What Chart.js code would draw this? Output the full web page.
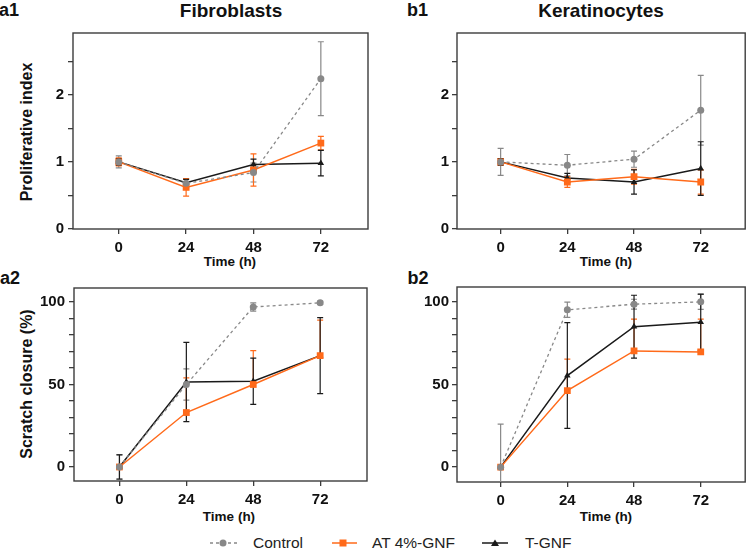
<!DOCTYPE html>
<html>
<head>
<meta charset="utf-8">
<script src="https://cdn.jsdelivr.net/npm/chart.js@4.4.1/dist/chart.umd.min.js"></script>
<style>
    body { margin: 0; width: 750px; height: 551px; background: #fff; position: relative; overflow: hidden;
           font-family: "Liberation Sans", Arial, sans-serif; }
    canvas { position: absolute; }
    .t { position: absolute; white-space: nowrap; line-height: 1; color: #111; font-weight: bold;
         transform: translate(-50%, -50%); }
    .rot { transform: translate(-50%, -50%) rotate(-90deg); }
    .leg { position: absolute; white-space: nowrap; line-height: 1; color: #222; font-size: 15.5px;
           transform: translate(0, -50%); }
    svg { position: absolute; }
</style>
</head>
<body>

<div class="t" style="left:9px; top:9.5px; font-size:18px">a1</div>
<div class="t" style="left:417.5px; top:9.5px; font-size:18px">b1</div>
<div class="t" style="left:10px; top:277.5px; font-size:18px">a2</div>
<div class="t" style="left:418px; top:277.5px; font-size:18px">b2</div>
<div class="t" style="left:231px; top:9.5px; font-size:19px">Fibroblasts</div>
<div class="t" style="left:601px; top:9.5px; font-size:19px">Keratinocytes</div>
<div class="t rot" style="left:27px; top:132px; font-size:16px">Proliferative index</div>
<div class="t rot" style="left:27px; top:384px; font-size:16px">Scratch closure (%)</div>
<div class="t" style="left:230px; top:262px; font-size:13.5px">Time (h)</div>
<div class="t" style="left:606px; top:262px; font-size:13.5px">Time (h)</div>
<div class="t" style="left:229px; top:517px; font-size:13.5px">Time (h)</div>
<div class="t" style="left:606px; top:517px; font-size:13.5px">Time (h)</div>

<canvas id="a1" width="375" height="275" style="left:0; top:0"></canvas>
<canvas id="b1" width="375" height="275" style="left:375px; top:0"></canvas>
<canvas id="a2" width="375" height="250" style="left:0; top:275px"></canvas>
<canvas id="b2" width="375" height="250" style="left:375px; top:275px"></canvas>

<svg width="36" height="14" style="left:208px; top:536px">
    <line x1="2" y1="7" x2="30" y2="7" stroke="#888" stroke-width="1.3" stroke-dasharray="3,3"/>
    <circle cx="15" cy="7" r="3.5" fill="#888"/>
</svg>
<div class="leg" style="left:253px; top:543px">Control</div>
<svg width="32" height="14" style="left:330px; top:536px">
    <line x1="2" y1="7" x2="27" y2="7" stroke="#ff6a1a" stroke-width="1.5"/>
    <rect x="9.5" y="3.5" width="7" height="7" fill="#ff6a1a"/>
</svg>
<div class="leg" style="left:372px; top:543px">AT 4%-GNF</div>
<svg width="32" height="14" style="left:480px; top:536px">
    <line x1="2" y1="7" x2="28" y2="7" stroke="#1a1a1a" stroke-width="1.5"/>
    <polygon points="15,3.5 19,10 11,10" fill="#1a1a1a"/>
</svg>
<div class="leg" style="left:525px; top:543px">T-GNF</div>

<script>
// time points (h)
const times = [0, 24, 48, 72];
const timeTicks = [0, 24, 48, 72];

// y ticks (labels only on the labeled ones)
const prolifTicks = [0, 0.5, 1, 1.5, 2, 2.5];
const prolifLabeled = [0, 1, 2];
const scratchTicks = [0, 10, 20, 30, 40, 50, 60, 70, 80, 90, 100];
const scratchLabeled = [0, 50, 100];

// a1 - fibroblasts, proliferative index
const fibProlifControl = [1.0, 0.68, 0.84, 2.24];
const fibProlifControlErr = [0.09, 0.07, 0.14, 0.55];
const fibProlifAT = [1.0, 0.62, 0.88, 1.28];
const fibProlifATErr = [0.06, 0.13, 0.24, 0.10];
const fibProlifT = [1.0, 0.69, 0.96, 0.98];
const fibProlifTErr = [0.05, 0.05, 0.08, 0.19];

// b1 - keratinocytes, proliferative index
const kerProlifControl = [1.0, 0.95, 1.04, 1.77];
const kerProlifControlErr = [0.20, 0.16, 0.12, 0.52];
const kerProlifAT = [1.0, 0.70, 0.78, 0.70];
const kerProlifATErr = [0.05, 0.08, 0.11, 0.18];
const kerProlifT = [1.0, 0.76, 0.70, 0.90];
const kerProlifTErr = [0.05, 0.07, 0.18, 0.40];

// a2 - fibroblasts, scratch closure (%)
const fibScratchControl = [0, 50, 97, 99.5];
const fibScratchControlErr = [7.5, 9.5, 2.5, 1];
const fibScratchAT = [0, 33, 50, 67.5];
const fibScratchATErr = [0, 21, 20.5, 21.5];
const fibScratchT = [0, 51.5, 52, 67.5];
const fibScratchTErr = [7.3, 24, 14, 23];

// b2 - keratinocytes, scratch closure (%)
const kerScratchControl = [0, 95.2, 98.6, 100];
const kerScratchControlErr = [26, 4.6, 3, 4.5];
const kerScratchAT = [0, 46.3, 70.3, 69.7];
const kerScratchATErr = [0, 19, 19.2, 19.8];
const kerScratchT = [0, 55.4, 85, 87.7];
const kerScratchTErr = [0, 32, 19, 17];

const FONT = '"Liberation Sans", Arial, sans-serif';
const AXIS = '#3c3c3c';
const GREY = '#888888';
const ORANGE = '#ff6a1a';
const BLACK = '#1a1a1a';

const framePlugin = {
    id: 'frame',
    beforeDatasetsDraw(chart) {
        const {ctx, chartArea: a} = chart;
        ctx.save();
        ctx.strokeStyle = AXIS;
        ctx.lineWidth = 1.4;
        ctx.strokeRect(a.left, a.top, a.right - a.left, a.bottom - a.top);
        ctx.restore();
    }
};

// error bars, drawn through the chart's own scales
const errorBarPlugin = {
    id: 'errorBars',
    beforeDatasetsDraw(chart) {
        const {ctx, chartArea: a, scales: {x, y}} = chart;
        ctx.save();
        ctx.beginPath();
        ctx.rect(a.left, a.top - 3, a.right - a.left, a.bottom - a.top + 3);
        ctx.clip();
        chart.data.datasets.forEach(ds => {
            ctx.strokeStyle = ds.borderColor;
            ctx.lineWidth = 1.2;
            ds.data.forEach((pt, i) => {
                const e = ds.errors[i];
                if (!e) return;
                const px = x.getPixelForValue(pt.x);
                const top = y.getPixelForValue(pt.y + e);
                const bot = y.getPixelForValue(ds.upOnly ? pt.y : pt.y - e);
                ctx.beginPath();
                ctx.moveTo(px, top);
                ctx.lineTo(px, bot);
                ctx.moveTo(px - 3, top);
                ctx.lineTo(px + 3, top);
                if (!ds.upOnly) {
                    ctx.moveTo(px - 3, bot);
                    ctx.lineTo(px + 3, bot);
                }
                ctx.stroke();
            });
        });
        ctx.restore();
    }
};

function points(values) {
    return values.map((v, i) => ({x: times[i], y: v}));
}

function makeSeries(control, controlErr, at, atErr, tg, tgErr, atUpOnly) {
    return [
        {
            label: 'Control', data: points(control), errors: controlErr,
            borderColor: GREY, backgroundColor: GREY, borderWidth: 1.3, borderDash: [3, 3],
            pointStyle: 'circle', pointRadius: 3.5, pointBorderWidth: 0
        },
        {
            label: 'AT 4%-GNF', data: points(at), errors: atErr, upOnly: atUpOnly,
            borderColor: ORANGE, backgroundColor: ORANGE, borderWidth: 1.5,
            pointStyle: 'rect', pointRadius: 4.8, pointBorderWidth: 0
        },
        {
            label: 'T-GNF', data: points(tg), errors: tgErr,
            borderColor: BLACK, backgroundColor: BLACK, borderWidth: 1.5,
            pointStyle: 'triangle', pointRadius: 3.8, pointBorderWidth: 0
        }
    ];
}

function makePanel(id, datasets, p) {
    const tickFont = {family: FONT, size: 15, weight: 'bold'};
    return new Chart(document.getElementById(id), {
        type: 'line',
        data: {datasets},
        plugins: [framePlugin, errorBarPlugin],
        options: {
            responsive: false,
            animation: false,
            devicePixelRatio: 1,
            layout: {padding: {top: p.padTop, right: p.padRight, left: 0, bottom: 0}},
            plugins: {legend: {display: false}, tooltip: {enabled: false}},
            elements: {line: {tension: 0}},
            scales: {
                x: {
                    type: 'linear', min: p.xMin, max: p.xMax,
                    afterBuildTicks: ax => { ax.ticks = timeTicks.map(v => ({value: v})); },
                    afterFit: ax => { ax.height = p.xHeight; },
                    grid: {drawOnChartArea: false, tickLength: 5, color: AXIS, lineWidth: 1.3},
                    border: {display: false},
                    ticks: {color: '#111', font: tickFont, padding: 5, autoSkip: false, maxRotation: 0}
                },
                y: {
                    type: 'linear', min: p.yMin, max: p.yMax,
                    afterBuildTicks: ax => { ax.ticks = p.yTicks.map(v => ({value: v})); },
                    afterFit: ax => { ax.width = p.yWidth; },
                    grid: {drawOnChartArea: false, tickLength: 5, color: AXIS, lineWidth: 1.3},
                    border: {display: false},
                    ticks: {
                        color: '#111', font: tickFont, padding: p.yPad, autoSkip: false,
                        callback: v => p.yLabeled.includes(v) ? String(v) : ''
                    }
                }
            }
        }
    });
}

window.onload = () => {
    makePanel('a1',
        makeSeries(fibProlifControl, fibProlifControlErr, fibProlifAT, fibProlifATErr, fibProlifT, fibProlifTErr, false),
        {padTop: 33, padRight: 7, xHeight: 46, yWidth: 73, yPad: 4,
         xMin: -16.3, xMax: 88.8, yMin: 0, yMax: 2.92, yTicks: prolifTicks, yLabeled: prolifLabeled});

    makePanel('b1',
        makeSeries(kerProlifControl, kerProlifControlErr, kerProlifAT, kerProlifATErr, kerProlifT, kerProlifTErr, false),
        {padTop: 33, padRight: 2, xHeight: 46, yWidth: 82, yPad: 3,
         xMin: -15.7, xMax: 88, yMin: 0, yMax: 2.92, yTicks: prolifTicks, yLabeled: prolifLabeled});

    makePanel('a2',
        makeSeries(fibScratchControl, fibScratchControlErr, fibScratchAT, fibScratchATErr, fibScratchT, fibScratchTErr, true),
        {padTop: 13, padRight: 8, xHeight: 44, yWidth: 74, yPad: 4,
         xMin: -16.3, xMax: 88.8, yMin: -8.5, yMax: 108.5, yTicks: scratchTicks, yLabeled: scratchLabeled});

    makePanel('b2',
        makeSeries(kerScratchControl, kerScratchControlErr, kerScratchAT, kerScratchATErr, kerScratchT, kerScratchTErr, true),
        {padTop: 12, padRight: 2, xHeight: 43, yWidth: 82, yPad: 3,
         xMin: -15.7, xMax: 88, yMin: -9, yMax: 109, yTicks: scratchTicks, yLabeled: scratchLabeled});
};
</script>
</body>
</html>
